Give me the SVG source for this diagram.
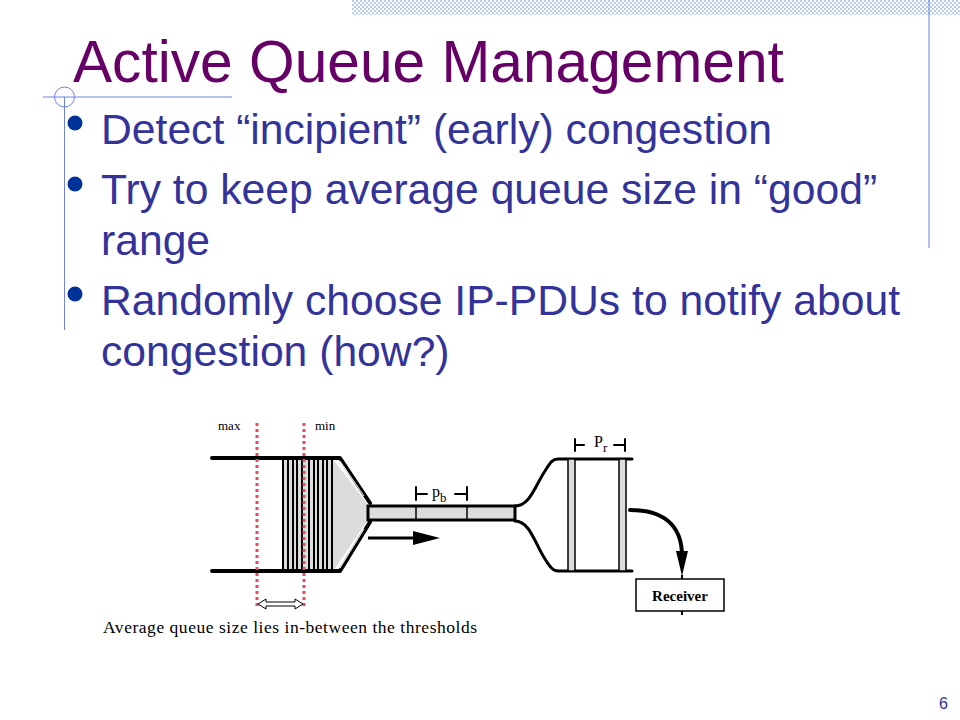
<svg xmlns="http://www.w3.org/2000/svg" width="960" height="720" viewBox="0 0 960 720">
<defs>
<pattern id="chk" width="4" height="4" patternUnits="userSpaceOnUse">
<rect width="4" height="4" fill="#ffffff"/>
<rect width="2" height="2" fill="#b9cdf0"/>
<rect x="2" y="2" width="2" height="2" fill="#b9cdf0"/>
</pattern>
</defs>
<style>
.deco{stroke:#6f82e0;stroke-width:1;fill:none}
.title{font-family:"Liberation Sans",Arial,sans-serif;font-size:58.67px;fill:#660066}
.bt{font-family:"Liberation Sans",Arial,sans-serif;font-size:42.67px;fill:#333399}
.dot{fill:#003399}
.blk{stroke:#000;fill:none;stroke-linecap:round;stroke-linejoin:round}
.grey{fill:#dcdcdc}
.red{stroke:#e8485a;stroke-width:3;stroke-dasharray:3 3;fill:none}
.serif{font-family:"Liberation Serif","Times New Roman",serif;fill:#000}
</style>
<rect width="960" height="720" fill="#ffffff"/>
<g id="decoration">
<rect x="352" y="0" width="608" height="15" fill="url(#chk)"/>
<line class="deco" x1="929" y1="0" x2="929" y2="248" stroke-width="1.5"/>
<line class="deco" x1="43" y1="97" x2="232" y2="97"/>
<circle class="deco" cx="64.5" cy="97" r="10"/>
<line class="deco" x1="64.5" y1="97" x2="64.5" y2="330"/>
</g>
<g id="title"><text class="title" x="73" y="82">Active Queue Management</text></g>
<g id="bullets">
<circle class="dot" cx="75" cy="123" r="7.5"/>
<circle class="dot" cx="75" cy="184" r="7.5"/>
<circle class="dot" cx="75" cy="294" r="7.5"/>
<text class="bt" x="101" y="144">Detect “incipient” (early) congestion</text>
<text class="bt" x="101" y="204">Try to keep average queue size in “good”</text>
<text class="bt" x="101" y="255">range</text>
<text class="bt" x="101" y="315">Randomly choose IP-PDUs to notify about</text>
<text class="bt" x="101" y="366">congestion (how?)</text>
</g>
<g id="router-queue">
<rect class="grey" x="283" y="459" width="50" height="112"/>
<polygon class="grey" points="333,459 368,505 368,520 333,571"/>
<path class="blk" stroke-width="4" d="M212,458 L340,458 L370,503"/>
<path class="blk" stroke-width="4" d="M212,571 L340,571 L370,522"/>
<path stroke="#fff" stroke-width="1" fill="none" d="M340,461 L364,496"/>
<path stroke="#fff" stroke-width="1" fill="none" d="M340,568 L364,529"/>
<g class="blk" stroke-width="2">
<line x1="283" y1="458" x2="283" y2="571"/>
<line x1="288" y1="458" x2="288" y2="571"/>
<line x1="293" y1="458" x2="293" y2="571"/>
<line x1="297" y1="458" x2="297" y2="571"/>
<line x1="302" y1="458" x2="302" y2="571"/>
<line x1="309" y1="458" x2="309" y2="571"/>
<line x1="314" y1="458" x2="314" y2="571"/>
<line x1="318" y1="458" x2="318" y2="571"/>
<line x1="323" y1="458" x2="323" y2="571"/>
<line x1="327" y1="458" x2="327" y2="571"/>
<line x1="332" y1="458" x2="332" y2="571"/>
</g>
<text class="serif" x="218" y="430" font-size="13">max</text>
<text class="serif" x="315" y="430" font-size="13">min</text>
</g>
<g id="bottleneck-link">
<rect x="368" y="506" width="147" height="14" fill="#dcdcdc" stroke="#000" stroke-width="3"/>
<line x1="416" y1="506" x2="416" y2="520" stroke="#000" stroke-width="1.5"/>
<line x1="467" y1="506" x2="467" y2="520" stroke="#000" stroke-width="1.5"/>
<g class="blk" stroke-width="2">
<line x1="416" y1="487" x2="416" y2="500"/>
<line x1="416" y1="494" x2="427" y2="494"/>
<line x1="467" y1="487" x2="467" y2="500"/>
<line x1="455" y1="494" x2="467" y2="494"/>
</g>
<text class="serif" x="432" y="497" font-size="16">p<tspan font-size="13" dy="5">b</tspan></text>
</g>
<g id="receiver-queue">
<path class="blk" stroke-width="3" d="M515,506 C530,506 535,486 545,471 C550,463 552,459 558,459 L632,459"/>
<path class="blk" stroke-width="3" d="M515,521 C530,521 535,544 545,559 C550,567 553,571 558,571 L632,571"/>
<rect x="568" y="459" width="7" height="112" fill="#dcdcdc" stroke="#000" stroke-width="1.5"/>
<rect x="619" y="459" width="7" height="112" fill="#dcdcdc" stroke="#000" stroke-width="1.5"/>
<g class="blk" stroke-width="2">
<line x1="575" y1="439" x2="575" y2="451"/>
<line x1="575" y1="445" x2="584" y2="445"/>
<line x1="625" y1="439" x2="625" y2="451"/>
<line x1="614" y1="445" x2="625" y2="445"/>
</g>
<text class="serif" x="594" y="447" font-size="16">P<tspan font-size="13" dy="5">r</tspan></text>
</g>
<g id="receiver">
<rect x="636" y="579" width="88" height="32" fill="#fff" stroke="#000" stroke-width="1.5"/>
<text class="serif" x="680" y="601" font-size="15" font-weight="bold" text-anchor="middle">Receiver</text>
<line x1="682" y1="611" x2="682" y2="615" stroke="#000" stroke-width="2"/>
</g>
<g id="thresholds">
<line class="red" x1="257" y1="423" x2="257" y2="607"/>
<line class="red" x1="304" y1="423" x2="304" y2="607"/>
</g>
<g id="connectors">
<line x1="368" y1="538" x2="418" y2="538" stroke="#000" stroke-width="3"/>
<polygon points="413,531 440,538 413,545" fill="#000"/>
<path class="blk" stroke-width="4" d="M630,510 C662,510 682,524 682,556"/>
<polygon points="676,551 688,551 682,576" fill="#000"/>
<line x1="682" y1="575" x2="682" y2="579" stroke="#000" stroke-width="2"/>
<polygon points="258,604 266,599 266,602 295,602 295,599 303,604 295,609 295,606 266,606 266,609" fill="#fff" stroke="#000" stroke-width="1"/>
</g>
<g id="caption">
<text class="serif" x="103" y="633" font-size="17.5" textLength="374" lengthAdjust="spacing">Average queue size lies in-between the thresholds</text>
</g>
<g id="page-number">
<text x="948" y="709" font-family="Liberation Sans,Arial,sans-serif" font-size="16" fill="#333399" text-anchor="end">6</text>
</g>
</svg>
